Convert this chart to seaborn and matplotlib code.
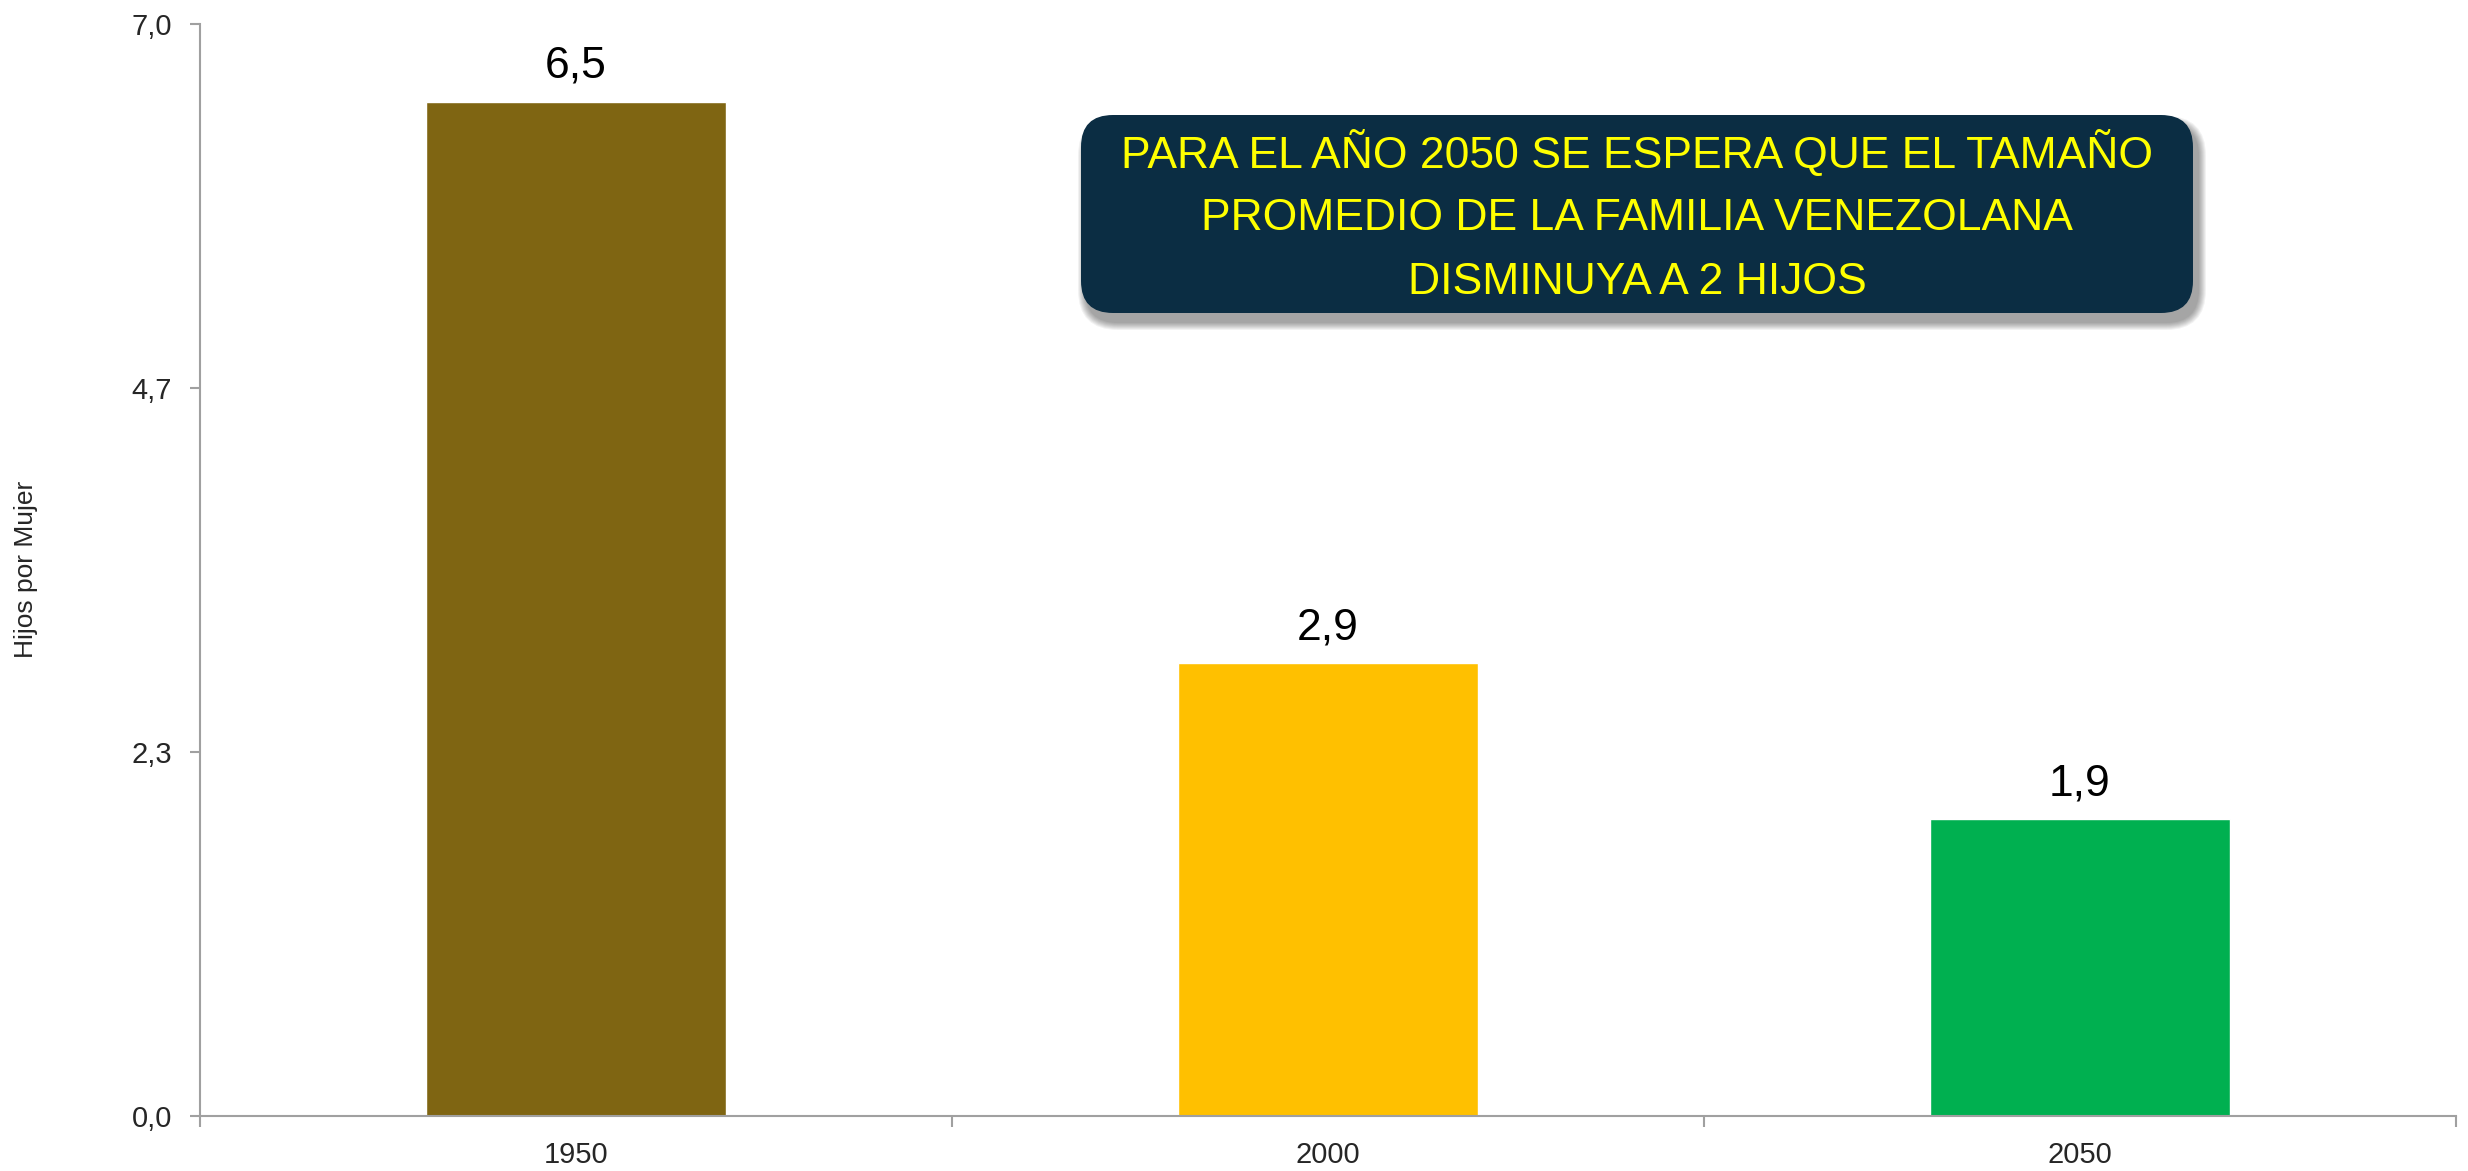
import matplotlib
matplotlib.use("Agg")
import matplotlib.pyplot as plt
from matplotlib.patches import FancyBboxPatch
from matplotlib.transforms import IdentityTransform
from matplotlib.ticker import FixedLocator, FuncFormatter
import pandas as pd
import seaborn as sns

# Datos del gráfico
anos = ["1950", "2000", "2050"]
hijos_por_mujer = [6.5, 2.9, 1.9]
colores = ["#7F6512", "#FFC000", "#00B050"]
ticks_y = [0.0, 7 / 3, 14 / 3, 7.0]
etiqueta_y = "Hijos por Mujer"
lineas_mensaje = [
    "PARA EL AÑO 2050 SE ESPERA QUE EL TAMAÑO",
    "PROMEDIO DE LA FAMILIA VENEZOLANA",
    "DISMINUYA A 2 HIJOS",
]

FUENTE = ["Liberation Sans", "DejaVu Sans"]


def coma(valor, pos=None):
    return f"{valor:.1f}".replace(".", ",")


def main():
    sns.set_style("white")
    plt.rcParams["font.family"] = FUENTE

    df = pd.DataFrame({"Año": anos, "Hijos": hijos_por_mujer})

    fig = plt.figure(figsize=(24.68, 11.71), dpi=100)
    ax = fig.add_axes([200 / 2468, 1 - 1116 / 1171, 2256 / 2468, (1116 - 23.6) / 1171])

    sns.barplot(data=df, x="Año", y="Hijos", hue="Año", palette=colores,
                legend=False, width=0.4, saturation=1, ax=ax)

    # Etiquetas de valores sobre las barras
    for cont in ax.containers:
        ax.bar_label(cont, labels=[coma(b.get_height()) for b in cont],
                     padding=11, fontsize=32, color="black")

    ax.set_xlim(-0.5, 2.5)
    ax.set_ylim(0, 7.0)

    # Eje Y
    ax.yaxis.set_major_locator(FixedLocator(ticks_y))
    ax.yaxis.set_major_formatter(FuncFormatter(coma))
    ax.tick_params(axis="y", which="major", length=7, width=1.5,
                   color="#A0A0A0", pad=13, labelsize=21, left=True)

    # Eje X: etiquetas centradas, marcas entre categorías
    ax.xaxis.set_minor_locator(FixedLocator([-0.5, 0.5, 1.5, 2.5]))
    ax.tick_params(axis="x", which="major", length=0, pad=18, labelsize=21)
    ax.tick_params(axis="x", which="minor", length=8, width=1.5,
                   color="#A0A0A0", bottom=True)

    for lado in ["top", "right"]:
        ax.spines[lado].set_visible(False)
    for lado in ["left", "bottom"]:
        ax.spines[lado].set_color("#A0A0A0")
        ax.spines[lado].set_linewidth(1.5)

    ax.set_xlabel("")
    ax.set_ylabel(etiqueta_y, fontsize=19)
    ax.yaxis.set_label_coords(-0.072, 0.5)

    # Cuadro de mensaje con sombra difusa
    x0, y0, w, h = 1081, 1171 - 313, 1112, 198
    for i in range(8):
        extra = 16 - 2 * i
        sombra = FancyBboxPatch((x0 + 5 - extra / 2, y0 - 9 - extra / 2), w + extra, h + extra,
                                boxstyle=f"round,pad=0,rounding_size={32 + extra / 2}",
                                transform=IdentityTransform(), facecolor="black",
                                edgecolor="none", alpha=0.05)
        fig.add_artist(sombra)
    caja = FancyBboxPatch((x0, y0), w, h, boxstyle="round,pad=0,rounding_size=32",
                          transform=IdentityTransform(), facecolor="#0B2D43",
                          edgecolor="none")
    fig.add_artist(caja)

    for linea, y in zip(lineas_mensaje, [153, 219, 283]):
        fig.text((x0 + w / 2) / 2468, 1 - y / 1171, linea, ha="center", va="center",
                 color="#FFFF00", fontsize=32)

    fig.savefig("out.png", dpi=100)


if __name__ == "__main__":
    main()
